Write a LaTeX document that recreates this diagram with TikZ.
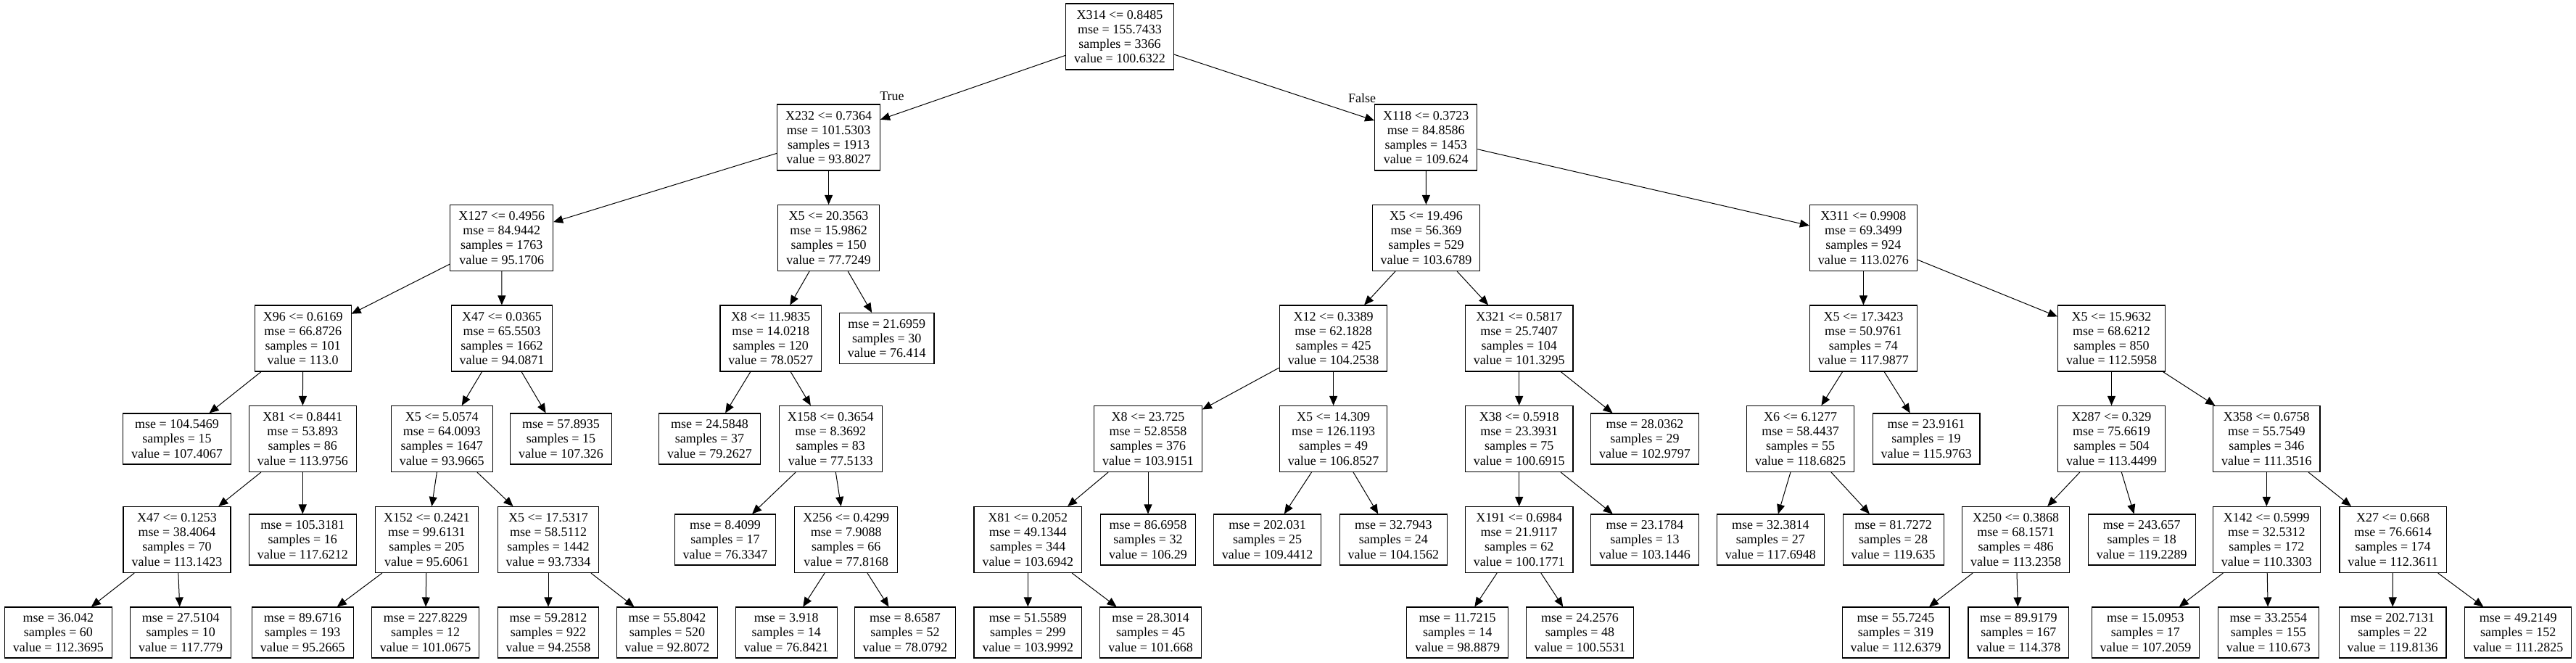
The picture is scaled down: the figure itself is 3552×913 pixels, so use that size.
\documentclass[tikz,border=0pt]{standalone}
\usepackage{fontspec}
\setmainfont{Liberation Serif}
\usetikzlibrary{arrows.meta}

\tikzset{
  splitbox/.style={draw, line width=1.1pt, inner sep=0pt, inner xsep=11.5pt, minimum height=91pt, align=center, font=\fontsize{18}{20.2}\selectfont},
  leafbox/.style={splitbox, minimum height=70pt},
  branch/.style={-{Triangle[length=13pt,width=11pt]}, line width=1pt},
  side/.style={font=\fontsize{18}{20.2}\selectfont, inner sep=0pt},
}

\begin{document}
\begin{tikzpicture}[x=1pt, y=-1pt]

\useasboundingbox (0,0) rectangle (3552,913);

\node[splitbox] (n0) at (1544,50.5) {X314 <= 0.8485\\mse = 155.7433\\samples = 3366\\value = 100.6322};

\node[splitbox] (n1) at (1142.6,189.5) {X232 <= 0.7364\\mse = 101.5303\\samples = 1913\\value = 93.8027};
\node[splitbox] (n2) at (1966.2,189.5) {X118 <= 0.3723\\mse = 84.8586\\samples = 1453\\value = 109.624};

\node[splitbox] (n3) at (691.7,328) {X127 <= 0.4956\\mse = 84.9442\\samples = 1763\\value = 95.1706};
\node[splitbox] (n4) at (1142.6,328) {X5 <= 20.3563\\mse = 15.9862\\samples = 150\\value = 77.7249};
\node[splitbox] (n5) at (1966.5,328) {X5 <= 19.496\\mse = 56.369\\samples = 529\\value = 103.6789};
\node[splitbox] (n6) at (2569.4,328) {X311 <= 0.9908\\mse = 69.3499\\samples = 924\\value = 113.0276};

\node[splitbox] (n7) at (417.7,466.5) {X96 <= 0.6169\\mse = 66.8726\\samples = 101\\value = 113.0};
\node[splitbox] (n8) at (692,466.5) {X47 <= 0.0365\\mse = 65.5503\\samples = 1662\\value = 94.0871};
\node[splitbox] (n9) at (1062.8,466.5) {X8 <= 11.9835\\mse = 14.0218\\samples = 120\\value = 78.0527};
\node[leafbox] (n10) at (1222.7,466.5) {mse = 21.6959\\samples = 30\\value = 76.414};
\node[splitbox] (n11) at (1838.6,466.5) {X12 <= 0.3389\\mse = 62.1828\\samples = 425\\value = 104.2538};
\node[splitbox] (n12) at (2094.7,466.5) {X321 <= 0.5817\\mse = 25.7407\\samples = 104\\value = 101.3295};
\node[splitbox] (n13) at (2569.4,466.5) {X5 <= 17.3423\\mse = 50.9761\\samples = 74\\value = 117.9877};
\node[splitbox] (n14) at (2911.5,466.5) {X5 <= 15.9632\\mse = 68.6212\\samples = 850\\value = 112.5958};

\node[leafbox] (n15) at (244,605) {mse = 104.5469\\samples = 15\\value = 107.4067};
\node[splitbox] (n16) at (417.3,605) {X81 <= 0.8441\\mse = 53.893\\samples = 86\\value = 113.9756};
\node[splitbox] (n17) at (609.3,605) {X5 <= 5.0574\\mse = 64.0093\\samples = 1647\\value = 93.9665};
\node[leafbox] (n18) at (773.5,605) {mse = 57.8935\\samples = 15\\value = 107.326};
\node[leafbox] (n19) at (978.5,605) {mse = 24.5848\\samples = 37\\value = 79.2627};
\node[splitbox] (n20) at (1145.2,605) {X158 <= 0.3654\\mse = 8.3692\\samples = 83\\value = 77.5133};
\node[splitbox] (n21) at (1583,605) {X8 <= 23.725\\mse = 52.8558\\samples = 376\\value = 103.9151};
\node[splitbox] (n22) at (1838.6,605) {X5 <= 14.309\\mse = 126.1193\\samples = 49\\value = 106.8527};
\node[splitbox] (n23) at (2094.7,605) {X38 <= 0.5918\\mse = 23.3931\\samples = 75\\value = 100.6915};
\node[leafbox] (n24) at (2268,605) {mse = 28.0362\\samples = 29\\value = 102.9797};
\node[splitbox] (n25) at (2482.6,605) {X6 <= 6.1277\\mse = 58.4437\\samples = 55\\value = 118.6825};
\node[leafbox] (n26) at (2656,605) {mse = 23.9161\\samples = 19\\value = 115.9763};
\node[splitbox] (n27) at (2911.5,605) {X287 <= 0.329\\mse = 75.6619\\samples = 504\\value = 113.4499};
\node[splitbox] (n28) at (3125.3,605) {X358 <= 0.6758\\mse = 55.7549\\samples = 346\\value = 111.3516};

\node[splitbox] (n29) at (244,744) {X47 <= 0.1253\\mse = 38.4064\\samples = 70\\value = 113.1423};
\node[leafbox] (n30) at (417.3,744) {mse = 105.3181\\samples = 16\\value = 117.6212};
\node[splitbox] (n31) at (588.4,744) {X152 <= 0.2421\\mse = 99.6131\\samples = 205\\value = 95.6061};
\node[splitbox] (n32) at (756,744) {X5 <= 17.5317\\mse = 58.5112\\samples = 1442\\value = 93.7334};
\node[leafbox] (n33) at (1000,744) {mse = 8.4099\\samples = 17\\value = 76.3347};
\node[splitbox] (n34) at (1166.8,744) {X256 <= 0.4299\\mse = 7.9088\\samples = 66\\value = 77.8168};
\node[splitbox] (n35) at (1417.3,744) {X81 <= 0.2052\\mse = 49.1344\\samples = 344\\value = 103.6942};
\node[leafbox] (n36) at (1583,744) {mse = 86.6958\\samples = 32\\value = 106.29};
\node[leafbox] (n37) at (1747.6,744) {mse = 202.031\\samples = 25\\value = 109.4412};
\node[leafbox] (n38) at (1921.4,744) {mse = 32.7943\\samples = 24\\value = 104.1562};
\node[splitbox] (n39) at (2094.7,744) {X191 <= 0.6984\\mse = 21.9117\\samples = 62\\value = 100.1771};
\node[leafbox] (n40) at (2268,744) {mse = 23.1784\\samples = 13\\value = 103.1446};
\node[leafbox] (n41) at (2441.3,744) {mse = 32.3814\\samples = 27\\value = 117.6948};
\node[leafbox] (n42) at (2610.6,744) {mse = 81.7272\\samples = 28\\value = 119.635};
\node[splitbox] (n43) at (2779.6,744) {X250 <= 0.3868\\mse = 68.1571\\samples = 486\\value = 113.2358};
\node[leafbox] (n44) at (2953.2,744) {mse = 243.657\\samples = 18\\value = 119.2289};
\node[splitbox] (n45) at (3125.3,744) {X142 <= 0.5999\\mse = 32.5312\\samples = 172\\value = 110.3303};
\node[splitbox] (n46) at (3299.6,744) {X27 <= 0.668\\mse = 76.6614\\samples = 174\\value = 112.3611};

\node[leafbox] (n47) at (80.4,872) {mse = 36.042\\samples = 60\\value = 112.3695};
\node[leafbox] (n48) at (249.2,872) {mse = 27.5104\\samples = 10\\value = 117.779};
\node[leafbox] (n49) at (417.3,872) {mse = 89.6716\\samples = 193\\value = 95.2665};
\node[leafbox] (n50) at (586.6,872) {mse = 227.8229\\samples = 12\\value = 101.0675};
\node[leafbox] (n51) at (756,872) {mse = 59.2812\\samples = 922\\value = 94.2558};
\node[leafbox] (n52) at (920,872) {mse = 55.8042\\samples = 520\\value = 92.8072};
\node[leafbox] (n53) at (1084.3,872) {mse = 3.918\\samples = 14\\value = 76.8421};
\node[leafbox] (n54) at (1248,872) {mse = 8.6587\\samples = 52\\value = 78.0792};
\node[leafbox] (n55) at (1417.3,872) {mse = 51.5589\\samples = 299\\value = 103.9992};
\node[leafbox] (n56) at (1586.6,872) {mse = 28.3014\\samples = 45\\value = 101.668};
\node[leafbox] (n57) at (2009.7,872) {mse = 11.7215\\samples = 14\\value = 98.8879};
\node[leafbox] (n58) at (2178.5,872) {mse = 24.2576\\samples = 48\\value = 100.5531};
\node[leafbox] (n59) at (2614,872) {mse = 55.7245\\samples = 319\\value = 112.6379};
\node[leafbox] (n60) at (2783.4,872) {mse = 89.9179\\samples = 167\\value = 114.378};
\node[leafbox] (n61) at (2958.4,872) {mse = 15.0953\\samples = 17\\value = 107.2059};
\node[leafbox] (n62) at (3127.8,872) {mse = 33.2554\\samples = 155\\value = 110.673};
\node[leafbox] (n63) at (3299,872) {mse = 202.7131\\samples = 22\\value = 119.8136};
\node[leafbox] (n64) at (3472.2,872) {mse = 49.2149\\samples = 152\\value = 111.2825};

\node[side] (yes) at (1230,133) {True};
\node[side] (no) at (1878,135) {False};


\draw[branch] (n0) -- (n1);
\draw[branch] (n0) -- (n2);

\draw[branch] (n1) -- (n3);
\draw[branch] (n1) -- (n4);
\draw[branch] (n2) -- (n5);
\draw[branch] (n2) -- (n6);

\draw[branch] (n3) -- (n7);
\draw[branch] (n3) -- (n8);
\draw[branch] (n4) -- (n9);
\draw[branch] (n4) -- (n10);
\draw[branch] (n5) -- (n11);
\draw[branch] (n5) -- (n12);
\draw[branch] (n6) -- (n13);
\draw[branch] (n6) -- (n14);

\draw[branch] (n7) -- (n15);
\draw[branch] (n7) -- (n16);
\draw[branch] (n8) -- (n17);
\draw[branch] (n8) -- (n18);
\draw[branch] (n9) -- (n19);
\draw[branch] (n9) -- (n20);
\draw[branch] (n11) -- (n21);
\draw[branch] (n11) -- (n22);
\draw[branch] (n12) -- (n23);
\draw[branch] (n12) -- (n24);
\draw[branch] (n13) -- (n25);
\draw[branch] (n13) -- (n26);
\draw[branch] (n14) -- (n27);
\draw[branch] (n14) -- (n28);

\draw[branch] (n16) -- (n29);
\draw[branch] (n16) -- (n30);
\draw[branch] (n17) -- (n31);
\draw[branch] (n17) -- (n32);
\draw[branch] (n20) -- (n33);
\draw[branch] (n20) -- (n34);
\draw[branch] (n21) -- (n35);
\draw[branch] (n21) -- (n36);
\draw[branch] (n22) -- (n37);
\draw[branch] (n22) -- (n38);
\draw[branch] (n23) -- (n39);
\draw[branch] (n23) -- (n40);
\draw[branch] (n25) -- (n41);
\draw[branch] (n25) -- (n42);
\draw[branch] (n27) -- (n43);
\draw[branch] (n27) -- (n44);
\draw[branch] (n28) -- (n45);
\draw[branch] (n28) -- (n46);

\draw[branch] (n29) -- (n47);
\draw[branch] (n29) -- (n48);
\draw[branch] (n31) -- (n49);
\draw[branch] (n31) -- (n50);
\draw[branch] (n32) -- (n51);
\draw[branch] (n32) -- (n52);
\draw[branch] (n34) -- (n53);
\draw[branch] (n34) -- (n54);
\draw[branch] (n35) -- (n55);
\draw[branch] (n35) -- (n56);
\draw[branch] (n39) -- (n57);
\draw[branch] (n39) -- (n58);
\draw[branch] (n43) -- (n59);
\draw[branch] (n43) -- (n60);
\draw[branch] (n45) -- (n61);
\draw[branch] (n45) -- (n62);
\draw[branch] (n46) -- (n63);
\draw[branch] (n46) -- (n64);

\end{tikzpicture}
\end{document}
